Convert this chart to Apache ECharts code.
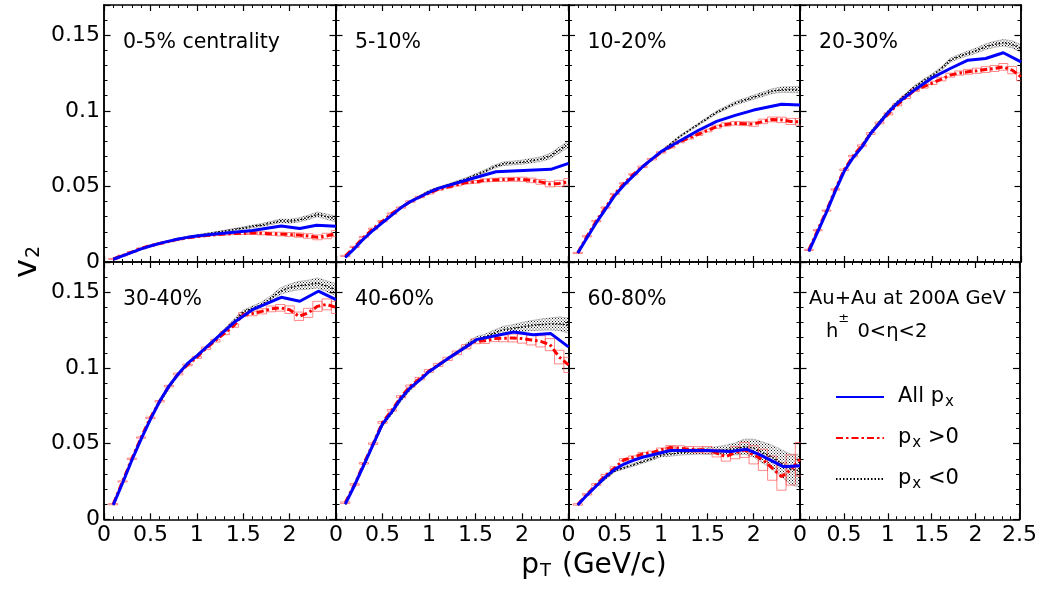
<!DOCTYPE html>
<html><head><meta charset="utf-8">
<script src="https://cdn.jsdelivr.net/npm/echarts@6/dist/echarts.min.js"></script>
<style>html,body{margin:0;padding:0;background:#fff}#c{width:1040px;height:590px}</style>
</head><body><div id="c"></div>
<script>
// ---------------- data ----------------
const panelLabels = ['0-5% centrality','5-10%','10-20%','20-30%','30-40%','40-60%','60-80%'];
const ptFine = [0.1,0.2,0.3,0.4,0.5,0.6,0.7,0.8,0.9,1.0,1.1,1.2,1.3,1.4,1.5,1.6,1.7,1.8,1.9,2.0,2.1,2.2,2.3,2.4,2.5];

// All p_x (blue)
const allPt_05   = [0.1,0.2,0.3,0.4,0.5,0.6,0.7,0.8,0.9,1.0,1.2,1.4,1.6,1.91,2.11,2.29,2.5];
const allV2_05   = [0.0018,0.0041,0.0064,0.0087,0.0106,0.0123,0.0138,0.0152,0.0163,0.0172,0.0185,0.0197,0.0209,0.0238,0.0222,0.0243,0.0236];
const allPt_510  = [0.1,0.2,0.3,0.4,0.5,0.6,0.7,0.8,0.9,1.0,1.1,1.4,1.72,2.31,2.5];
const allV2_510  = [0.003,0.009,0.0155,0.021,0.026,0.031,0.036,0.040,0.043,0.046,0.0487,0.0541,0.0597,0.0613,0.0652];
const allPt_1020 = [0.1,0.2,0.3,0.4,0.5,0.6,0.7,0.8,0.9,1.0,1.2,1.4,1.6,1.8,2.0,2.3,2.5];
const allV2_1020 = [0.006,0.016,0.026,0.035,0.044,0.051,0.057,0.063,0.068,0.073,0.080,0.087,0.093,0.097,0.1005,0.1044,0.1038];
const allPt_2030 = [0.1,0.2,0.3,0.4,0.5,0.6,0.7,0.8,0.9,1.0,1.1,1.3,1.5,1.7,1.9,2.1,2.3,2.5];
const allV2_2030 = [0.007,0.020,0.033,0.047,0.060,0.069,0.076,0.085,0.092,0.099,0.105,0.114,0.122,0.128,0.1335,0.1346,0.1384,0.1324];
const allPt_3040 = [0.1,0.2,0.3,0.4,0.5,0.6,0.7,0.8,0.9,1.0,1.2,1.4,1.6,1.91,2.11,2.31,2.5];
const allV2_3040 = [0.0095,0.024,0.039,0.053,0.066,0.078,0.088,0.096,0.103,0.108,0.119,0.130,0.1385,0.1467,0.1441,0.1507,0.1452];
const allPt_4060 = [0.1,0.2,0.3,0.4,0.5,0.6,0.7,0.8,0.9,1.0,1.2,1.4,1.51,1.91,2.12,2.31,2.5];
const allV2_4060 = [0.010,0.0225,0.036,0.0495,0.063,0.071,0.080,0.087,0.092,0.0975,0.106,0.114,0.1187,0.1238,0.122,0.1227,0.1139];
const allPt_6080 = [0.1,0.2,0.3,0.4,0.5,0.6,0.7,0.8,0.9,1.0,1.1,1.5,1.75,1.92,2.07,2.32,2.5];
const allV2_6080 = [0.0095,0.016,0.022,0.028,0.033,0.0365,0.039,0.041,0.0425,0.044,0.0454,0.0454,0.0448,0.0463,0.0426,0.0348,0.0353];

// p_x < 0 (black dotted + hatched band)
const negV2_05   = [0.0018,0.0040,0.0063,0.0085,0.0105,0.0122,0.0138,0.0152,0.0165,0.0176,0.0186,0.0195,0.0205,0.0215,0.0225,0.0235,0.0245,0.0258,0.0272,0.0270,0.0278,0.0295,0.0315,0.0300,0.0285];
const negV2_510  = [0.003,0.009,0.015,0.021,0.026,0.031,0.036,0.040,0.0435,0.047,0.049,0.051,0.053,0.055,0.0575,0.060,0.063,0.065,0.0655,0.066,0.067,0.068,0.070,0.074,0.078];
const negV2_1020 = [0.006,0.016,0.026,0.035,0.044,0.051,0.057,0.063,0.068,0.073,0.078,0.083,0.087,0.091,0.095,0.099,0.102,0.105,0.107,0.109,0.111,0.113,0.114,0.114,0.114];
const negV2_2030 = [0.007,0.020,0.033,0.047,0.060,0.069,0.077,0.086,0.093,0.100,0.106,0.111,0.116,0.120,0.1236,0.128,0.1335,0.136,0.138,0.140,0.1424,0.144,0.145,0.144,0.1412];
const negV2_3040 = [0.0095,0.024,0.039,0.053,0.066,0.077,0.087,0.096,0.103,0.108,0.114,0.119,0.125,0.131,0.137,0.1395,0.1419,0.146,0.1507,0.153,0.1544,0.155,0.1562,0.154,0.1518];
const negV2_4060 = [0.010,0.022,0.035,0.049,0.062,0.070,0.079,0.086,0.092,0.0975,0.102,0.106,0.110,0.115,0.119,0.1205,0.123,0.1253,0.126,0.1271,0.128,0.1286,0.129,0.1293,0.128];
const negV2_6080 = [0.0095,0.016,0.022,0.027,0.032,0.034,0.036,0.038,0.040,0.0425,0.043,0.044,0.0445,0.045,0.045,0.0455,0.046,0.0465,0.048,0.047,0.044,0.041,0.037,0.033,0.032];

// p_x > 0 (red dash-dot + boxes)
const posV2_05   = [0.0020,0.0043,0.0066,0.0090,0.0108,0.0122,0.0136,0.0150,0.0160,0.0168,0.0175,0.0180,0.0185,0.0188,0.0190,0.0192,0.0190,0.0187,0.0185,0.0182,0.0178,0.0172,0.0163,0.0172,0.0188];
const posV2_510  = [0.004,0.010,0.0165,0.022,0.027,0.032,0.036,0.040,0.043,0.0455,0.048,0.0495,0.051,0.0525,0.053,0.054,0.0543,0.0545,0.0547,0.0547,0.054,0.053,0.0515,0.052,0.053];
const posV2_1020 = [0.006,0.017,0.027,0.036,0.045,0.052,0.058,0.063,0.068,0.0725,0.076,0.0795,0.082,0.0845,0.087,0.0895,0.091,0.0917,0.0915,0.0912,0.093,0.0943,0.094,0.093,0.0927];
const posV2_2030 = [0.008,0.021,0.034,0.048,0.061,0.070,0.077,0.085,0.092,0.098,0.104,0.109,0.1137,0.116,0.1185,0.121,0.1236,0.125,0.1258,0.1265,0.1273,0.128,0.1291,0.1269,0.1225];
const posV2_3040 = [0.010,0.025,0.040,0.054,0.067,0.078,0.088,0.096,0.102,0.107,0.113,0.118,0.123,0.128,0.1352,0.136,0.1374,0.139,0.1397,0.1385,0.1341,0.1364,0.1407,0.142,0.140];
const posV2_4060 = [0.011,0.023,0.037,0.050,0.064,0.072,0.081,0.088,0.093,0.098,0.102,0.106,0.110,0.114,0.1176,0.118,0.1194,0.1196,0.1198,0.1194,0.1185,0.1176,0.1154,0.1072,0.102];
const posV2_6080 = [0.0098,0.0165,0.023,0.029,0.034,0.0393,0.041,0.0432,0.044,0.0459,0.0474,0.047,0.0463,0.046,0.0459,0.0437,0.0414,0.044,0.0459,0.0426,0.0393,0.0338,0.0282,0.0326,0.0397];

// statistical errors (half widths) for p_x>0 / p_x<0
const err_05   = [0.0003,0.0003,0.0003,0.0003,0.0003,0.0003,0.0003,0.0004,0.0004,0.0004,0.0005,0.0005,0.0006,0.0007,0.0008,0.0009,0.001,0.0011,0.0012,0.0013,0.0014,0.0015,0.0016,0.0018,0.002];
const err_510  = [0.0004,0.0004,0.0004,0.0004,0.0004,0.0004,0.0004,0.0005,0.0005,0.0005,0.0006,0.0006,0.0007,0.0008,0.0009,0.001,0.0011,0.0012,0.0013,0.0014,0.0015,0.0016,0.0018,0.002,0.0022];
const err_1020 = [0.0004,0.0004,0.0004,0.0004,0.0004,0.0004,0.0004,0.0005,0.0005,0.0005,0.0006,0.0006,0.0007,0.0008,0.0009,0.001,0.0011,0.0012,0.0013,0.0014,0.0015,0.0016,0.0018,0.002,0.0022];
const err_2030 = [0.0004,0.0004,0.0004,0.0004,0.0005,0.0005,0.0005,0.0006,0.0006,0.0007,0.0007,0.0008,0.0009,0.001,0.0011,0.0012,0.0013,0.0014,0.0016,0.0017,0.0019,0.002,0.0022,0.0024,0.0026];
const err_3040 = [0.0004,0.0004,0.0004,0.0004,0.0005,0.0005,0.0005,0.0006,0.0006,0.0007,0.0008,0.0009,0.001,0.0011,0.0013,0.0015,0.0017,0.0019,0.0022,0.0025,0.0028,0.003,0.0033,0.0036,0.004];
const err_4060 = [0.0005,0.0005,0.0005,0.0005,0.0006,0.0006,0.0007,0.0007,0.0008,0.0009,0.001,0.0011,0.0012,0.0014,0.0016,0.0018,0.002,0.0023,0.0026,0.003,0.0033,0.0037,0.004,0.0045,0.005];
const err_6080 = [0.0005,0.0005,0.0006,0.0006,0.0007,0.0008,0.0009,0.001,0.0011,0.0012,0.0014,0.0016,0.0018,0.002,0.0022,0.0025,0.003,0.004,0.005,0.006,0.007,0.008,0.009,0.010,0.011];

const allPtList = [allPt_05,allPt_510,allPt_1020,allPt_2030,allPt_3040,allPt_4060,allPt_6080];
const allV2List = [allV2_05,allV2_510,allV2_1020,allV2_2030,allV2_3040,allV2_4060,allV2_6080];
const negList = [negV2_05,negV2_510,negV2_1020,negV2_2030,negV2_3040,negV2_4060,negV2_6080];
const posList = [posV2_05,posV2_510,posV2_1020,posV2_2030,posV2_3040,posV2_4060,posV2_6080];
const errList = [err_05,err_510,err_1020,err_2030,err_3040,err_4060,err_6080];

// ---------------- layout ----------------
const FONT = 'DejaVu Sans';
const colLeft = [104, 336, 568.5, 800];
const colWidth = [232, 232.5, 231.5, 221];
const rowTop = [5, 262];
const rowHeight = [257, 257.3];

const chart = echarts.init(document.getElementById('c'), null, {renderer: 'canvas'});

// hatch pattern for p_x<0 band
const pc = document.createElement('canvas');
pc.width = 3; pc.height = 3;
const pg = pc.getContext('2d');
pg.fillStyle = 'rgba(0,0,0,0.9)';
pg.fillRect(0, 0, 1, 1);
pg.fillRect(1.5, 1.5, 1, 1);

const grids = [], xAxes = [], yAxes = [], series = [], graphics = [];
const axisLineStyle = {color: '#000', width: 1.5};
for (let g = 0; g < 8; g++) {
  const row = Math.floor(g / 4), col = g % 4;
  grids.push({left: colLeft[col], top: rowTop[row], width: colWidth[col], height: rowHeight[row], show: false});
  const xBase = {
    gridIndex: g, type: 'value', min: 0, max: 2.5, interval: 0.5,
    axisLine: {show: true, onZero: false, lineStyle: axisLineStyle},
    axisTick: {show: true, inside: true, length: 6, lineStyle: {color: '#000', width: 1.2}},
    minorTick: {show: true, splitNumber: 5, length: 3, lineStyle: {color: '#000', width: 1}},
    splitLine: {show: false}, minorSplitLine: {show: false}
  };
  const lastCol = (col === 3);
  xAxes.push(Object.assign({}, xBase, {
    position: 'bottom',
    axisLabel: {show: row === 1, color: '#000', fontFamily: FONT, fontSize: 22, margin: 5,
      formatter: v => (!lastCol && Math.abs(v - 2.5) < 1e-9) ? '' : String(v)}
  }));
  xAxes.push(Object.assign({}, xBase, {position: 'top', axisLabel: {show: false}}));
  const yBase = {
    gridIndex: g, type: 'value', min: 0, max: 0.17,
    axisLine: {show: true, onZero: false, lineStyle: axisLineStyle},
    splitLine: {show: false}
  };
  ['left', 'right'].forEach(pos => {
    yAxes.push(Object.assign({}, yBase, {
      position: pos, interval: 0.01,
      axisTick: {show: true, inside: true, length: 3.5, lineStyle: {color: '#000', width: 1}},
      axisLabel: {show: false}
    }));
    yAxes.push(Object.assign({}, yBase, {
      position: pos, interval: 0.05,
      axisTick: {show: true, inside: true, length: 6.5, lineStyle: {color: '#000', width: 1.2}},
      axisLabel: {show: pos === 'left' && col === 0, color: '#000', fontFamily: FONT, fontSize: 22, margin: 4,
        formatter: v => (v > 0.16) ? '' : String(Math.round(v * 100) / 100)}
    }));
  });
}

for (let p = 0; p < 7; p++) {
  const xi = p * 2, yi = p * 4 + 1;
  const neg = negList[p], pos = posList[p], err = errList[p];
  // hatched band for p_x<0
  series.push({
    type: 'custom', name: 'band', xAxisIndex: xi, yAxisIndex: yi, clip: true, z: 1,
    silent: true, data: [[0, 0]],
    renderItem: function (params, api) {
      const pts = [];
      for (let i = 0; i < ptFine.length; i++) pts.push(api.coord([ptFine[i], neg[i] + err[i]]));
      for (let i = ptFine.length - 1; i >= 0; i--) pts.push(api.coord([ptFine[i], neg[i] - err[i]]));
      return {type: 'polygon', shape: {points: pts},
        style: {fill: {image: pc, repeat: 'repeat'}, stroke: 'rgba(0,0,0,0.35)', lineWidth: 0.6}};
    }
  });
  // error boxes for p_x>0
  series.push({
    type: 'custom', name: 'boxes', xAxisIndex: xi, yAxisIndex: yi, clip: true, z: 2, silent: true,
    encode: {x: 0, y: 1},
    data: ptFine.map((x, i) => [x, pos[i], err[i]]),
    renderItem: function (params, api) {
      const a = api.coord([api.value(0) - 0.05, api.value(1) + api.value(2)]);
      const b = api.coord([api.value(0) + 0.05, api.value(1) - api.value(2)]);
      return {type: 'rect', shape: {x: a[0], y: a[1], width: b[0] - a[0], height: b[1] - a[1]},
        style: {fill: 'none', stroke: 'rgba(255,60,60,0.6)', lineWidth: 1}};
    }
  });
  series.push({
    type: 'line', name: 'p_x <0', xAxisIndex: xi, yAxisIndex: yi, symbol: 'none', z: 3, clip: true,
    data: ptFine.map((x, i) => [x, neg[i]]),
    lineStyle: {color: '#000', width: 1.6, type: [1.5, 2]}, itemStyle: {color: '#000'}
  });
  series.push({
    type: 'line', name: 'p_x >0', xAxisIndex: xi, yAxisIndex: yi, symbol: 'none', z: 4, clip: true,
    data: ptFine.map((x, i) => [x, pos[i]]),
    lineStyle: {color: '#ff0000', width: 3, type: [7, 3, 2.5, 3]}, itemStyle: {color: '#ff0000'}
  });
  series.push({
    type: 'line', name: 'All p_x', xAxisIndex: xi, yAxisIndex: yi, symbol: 'none', z: 5, clip: true,
    data: allPtList[p].map((x, i) => [x, allV2List[p][i]]),
    lineStyle: {color: '#0000ff', width: 3}, itemStyle: {color: '#0000ff'}
  });
  const row = Math.floor(p / 4), col = p % 4;
  graphics.push({type: 'text', left: colLeft[col] + 19, top: rowTop[row] + 27,
    style: {text: panelLabels[p], fill: '#000', font: '20.5px "' + FONT + '"'}});
}

graphics.push({type: 'text', left: 809, top: 289,
  style: {text: 'Au+Au at 200A GeV', fill: '#000', font: '19.5px "' + FONT + '"'}});
graphics.push({type: 'text', left: 826, top: 312,
  style: {text: '{m|h}{sup|±}{m| 0<η<2}', fill: '#000', font: '19.5px "' + FONT + '"',
    rich: {
      m: {fontSize: 19.5, fontFamily: FONT, lineHeight: 30, verticalAlign: 'bottom'},
      sup: {fontSize: 13, fontFamily: FONT, lineHeight: 13, verticalAlign: 'top', padding: [0, 2, 0, 0]}
    }}});
// axis titles
graphics.push({type: 'text', x: 594, y: 566,
  style: {text: 'p{sub|T} (GeV/c)', fill: '#000', font: '28px "' + FONT + '"', align: 'center', verticalAlign: 'middle',
    rich: {sub: {fontSize: 18, fontFamily: FONT, verticalAlign: 'bottom', lineHeight: 18, padding: [18, 2, 0, 1]}}}});
graphics.push({type: 'text', x: 28, y: 262, rotation: Math.PI / 2,
  style: {text: 'v{sub|2}', fill: '#000', font: '32px "' + FONT + '"', align: 'center', verticalAlign: 'middle',
    rich: {sub: {fontSize: 19, fontFamily: FONT, verticalAlign: 'bottom', lineHeight: 19, padding: [18, 0, 0, 1]}}}});

chart.setOption({
  animation: false,
  grid: grids, xAxis: xAxes, yAxis: yAxes, series: series, graphic: graphics,
  legend: {
    data: ['All p_x', 'p_x >0', 'p_x <0'], orient: 'vertical', left: 835, top: 382, padding: 0,
    itemWidth: 48, itemHeight: 14, itemGap: 13, selectedMode: false,
    itemStyle: {color: 'rgba(0,0,0,0)', borderColor: 'rgba(0,0,0,0)', borderWidth: 0, opacity: 0},
    formatter: name => name.replace('p_x', 'p{sub|x}'),
    textStyle: {color: '#000', fontFamily: FONT, fontSize: 21, lineHeight: 26, padding: [0, 0, 0, 9],
      rich: {sub: {fontSize: 15, fontFamily: FONT, verticalAlign: 'bottom', lineHeight: 15, padding: [13, 0, 0, 1]}}}
  }
});
</script></body></html>
